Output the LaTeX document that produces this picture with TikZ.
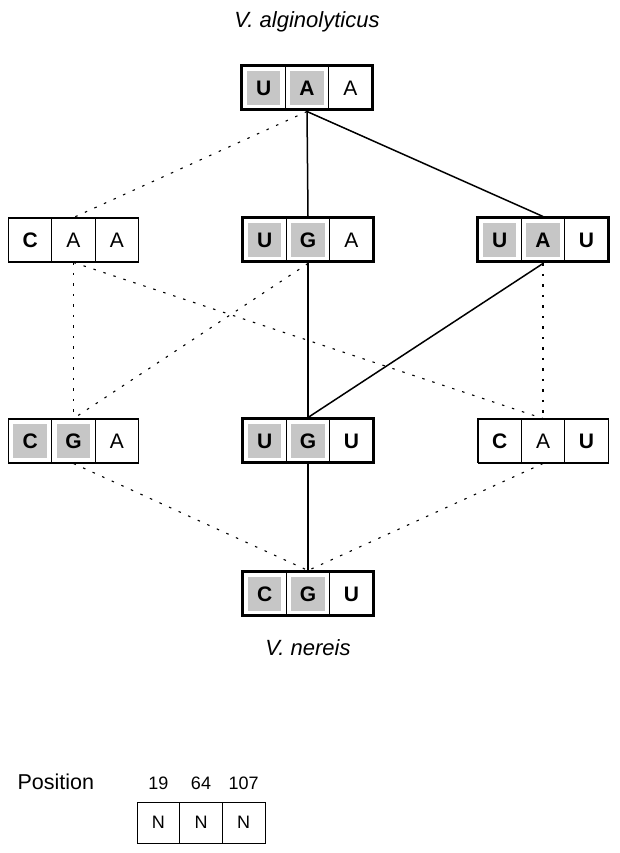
\documentclass[tikz,border=0pt]{standalone}
\usepackage{fontspec}
\setmainfont{Liberation Sans}
\usepackage{tikz}
\usetikzlibrary{positioning,
	fit}

\begin{document}
\begin{tikzpicture}[x=1pt,y=1pt,
        cell/.style={draw,line width=0.8pt,outer sep=0pt,inner sep=0pt,
            minimum width=43.4pt,minimum height=44pt,
            font=\fontsize{21}{21}\selectfont},
        smallcell/.style={cell,minimum width=42.7pt,minimum height=41pt,
            font=\fontsize{18}{18}\selectfont},
        shaded/.style={path picture={\fill[gray!45]
            ([shift={(5pt,5pt)}]path picture bounding box.south west) rectangle
            ([shift={(-5pt,-5pt)}]path picture bounding box.north east);}},
        heavy/.style={draw,line width=3pt,inner sep=0pt},
        light/.style={draw,line width=1pt,inner sep=0pt},
        link/.style={line width=1.5pt},
        dots/.style={line width=1.1pt,dash pattern=on 2.5pt off 8pt},
        species/.style={font=\fontsize{22}{22}\selectfont\itshape}]

        \useasboundingbox (0,0) rectangle (619,853);

        \node[species] (alg) at (307,831) {V. alginolyticus};

        \node[cell,shaded] (uaa2) at (307,765) {\bfseries A};
        \node[cell,shaded,left=0pt of uaa2] (uaa1) {\bfseries U};
        \node[cell,right=0pt of uaa2] (uaa3) {A};
        \node[heavy,fit=(uaa1)(uaa3)] (uaa) {};

        \node[cell] (caa2) at (73.5,613) {A};
        \node[cell,left=0pt of caa2] (caa1) {\bfseries C};
        \node[cell,right=0pt of caa2] (caa3) {A};
        \node[light,fit=(caa1)(caa3)] (caa) {};

        \node[cell,shaded] (uga2) at (308,613) {\bfseries G};
        \node[cell,shaded,left=0pt of uga2] (uga1) {\bfseries U};
        \node[cell,right=0pt of uga2] (uga3) {A};
        \node[heavy,fit=(uga1)(uga3)] (uga) {};

        \node[cell,shaded] (uau2) at (543,613) {\bfseries A};
        \node[cell,shaded,left=0pt of uau2] (uau1) {\bfseries U};
        \node[cell,right=0pt of uau2] (uau3) {\bfseries U};
        \node[heavy,fit=(uau1)(uau3)] (uau) {};

        \node[cell,shaded] (cga2) at (73.5,412) {\bfseries G};
        \node[cell,shaded,left=0pt of cga2] (cga1) {\bfseries C};
        \node[cell,right=0pt of cga2] (cga3) {A};
        \node[light,fit=(cga1)(cga3)] (cga) {};

        \node[cell,shaded] (ugu2) at (308,412) {\bfseries G};
        \node[cell,shaded,left=0pt of ugu2] (ugu1) {\bfseries U};
        \node[cell,right=0pt of ugu2] (ugu3) {\bfseries U};
        \node[heavy,fit=(ugu1)(ugu3)] (ugu) {};

        \node[cell] (cau2) at (543,412) {A};
        \node[cell,left=0pt of cau2] (cau1) {\bfseries C};
        \node[cell,right=0pt of cau2] (cau3) {\bfseries U};
        \node[light,fit=(cau1)(cau3)] (cau) {};

        \node[cell,shaded] (cgu2) at (308,259) {\bfseries G};
        \node[cell,shaded,left=0pt of cgu2] (cgu1) {\bfseries C};
        \node[cell,right=0pt of cgu2] (cgu3) {\bfseries U};
        \node[heavy,fit=(cgu1)(cgu3)] (cgu) {};

        \node[species] (ner) at (308,205) {V. nereis};

        \draw[link] (uaa.south)--(uga.north);
        \draw[link] (uaa.south)--(uau.north);
        \draw[link] (uga.south)--(ugu.north);
        \draw[link] (uau.south)--(ugu.north);
        \draw[link] (ugu.south)--(cgu.north);

        \draw[dots] (uaa.south)--(caa.north);
        \draw[dots] (caa.south)--(cga.north);
        \draw[dots] (caa.south)--(cau.north);
        \draw[dots] (uga.south)--(cga.north);
        \draw[dots] (uau.south)--(cau.north);
        \draw[dots] (cga.south)--(cgu.north);
        \draw[dots] (cau.south)--(cgu.north);

        \node[anchor=west,font=\fontsize{21.5}{21.5}\selectfont] (pos) at (14,71) {Position};
        \node[smallcell] (n2) at (201,30.5) {N};
        \node[smallcell,left=0pt of n2] (n1) {N};
        \node[smallcell,right=0pt of n2] (n3) {N};
        \node[font=\fontsize{18}{18}\selectfont] (p19) at (158.3,70) {19};
        \node[font=\fontsize{18}{18}\selectfont] (p64) at (201,70) {64};
        \node[font=\fontsize{18}{18}\selectfont] (p107) at (243.7,70) {107};

    \end{tikzpicture}
\end{document}
